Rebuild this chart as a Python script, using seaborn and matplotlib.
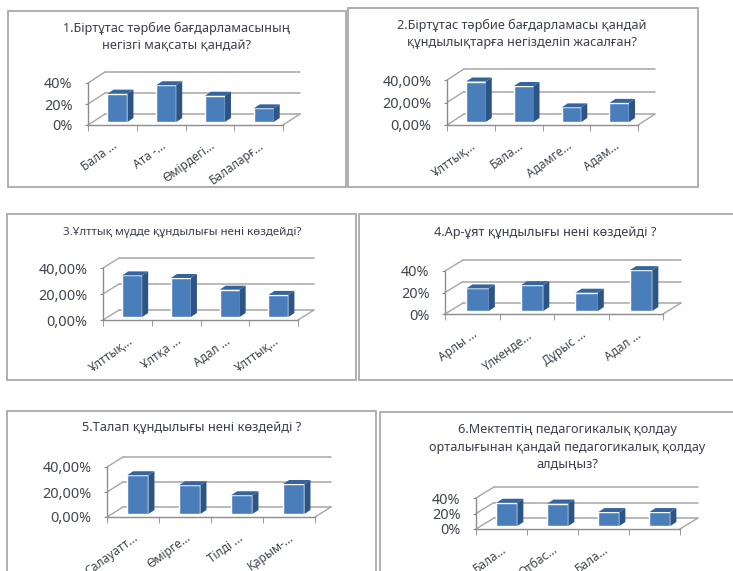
#!/usr/bin/env python
####Six fake 3D bar charts (Excel style) drawn with seaborn bars
import numpy as np
import seaborn as sns
import matplotlib
matplotlib.use("Agg")
import matplotlib.pyplot as plt
from matplotlib.patches import Polygon, Rectangle
from matplotlib.transforms import Affine2D, IdentityTransform

sns.set_style("white")
plt.rcParams['font.family'] = ['Noto Sans', 'DejaVu Sans']

####Data
title1 = "1.Біртұтас тәрбие бағдарламасының\nнегізгі мақсаты қандай?"
cats1 = ["Бала ...", "Ата -...", "Өмірдегі...", "Балаларғ..."]
vals1 = [27, 35, 25, 13]
ticks1 = ["0%", "20%", "40%"]

title2 = "2.Біртұтас тәрбие бағдарламасы қандай\nқұндылықтарға негізделіп жасалған?"
cats2 = ["Ұлттық...", "Бала...", "Адамге...", "Адам..."]
vals2 = [36, 32, 13, 17]
ticks2 = ["0,00%", "20,00%", "40,00%"]

title3 = "3.Ұлттық мүдде құндылығы нені көздейді?"
cats3 = ["Ұлттық...", "Ұлтқа ...", "Адал ...", "Ұлттық..."]
vals3 = [32, 30, 21, 17]
ticks3 = ["0,00%", "20,00%", "40,00%"]

title4 = "4.Ар-ұят құндылығы нені көздейді ?"
cats4 = ["Арлы ...", "Үлкенде...", "Дұрыс ...", "Адал ..."]
vals4 = [21, 24, 17, 38]
ticks4 = ["0%", "20%", "40%"]

title5 = "5.Талап құндылығы нені көздейді ?"
cats5 = ["Салауатт...", "Өмірге...", "Тілді ...", "Қарым-..."]
vals5 = [31, 23, 15, 24]
ticks5 = ["0,00%", "20,00%", "40,00%"]

title6 = "6.Мектептің педагогикалық қолдау\nорталығынан қандай педагогикалық қолдау\nалдыңыз?"
cats6 = ["Бала...", "Отбас...", "Бала...", ""]
vals6 = [30, 29, 18, 18]
ticks6 = ["0%", "20%", "40%"]

####Figure layout in pixels from top left
W, H = 733, 571
fig = plt.figure(figsize=(W / 100, H / 100), dpi=100)

FRONT = "#4a7ebb"
SIDE = "#2b5587"
TOP = "#35659f"
GRID = "#a6a6a6"
TEXT = "#404650"


def make_panel(box, plot, back, title, title_xy, title_size, cats, vals, ticks):
    # panel frame
    bx0, by0, bx1, by1 = box
    fig.add_artist(Rectangle((bx0, H - by1), bx1 - bx0, by1 - by0, transform=IdentityTransform(),
                             fc="white", ec="#a9a9a9", lw=1.3, zorder=-1))
    fig.text(title_xy[0] / W, 1 - title_xy[1] / H, title, ha="center", va="center",
             fontsize=title_size, color="#3b3f4c", linespacing=1.4)

    # front plane of the chart is the axes itself
    x0, x1, y40, y0 = plot
    dx, dy = back
    ax = fig.add_axes([x0 / W, 1 - y0 / H, (x1 - x0) / W, (y0 - y40) / H])
    ax.patch.set_alpha(0)

    sns.barplot(x=np.arange(len(vals)), y=vals, color=FRONT, saturation=1, width=0.41, ax=ax, zorder=3)
    ax.set_xlim(-0.5, len(vals) - 0.5)
    ax.set_ylim(0, 40)
    ax.set_xlabel("")
    ax.set_ylabel("")
    sns.despine(ax=ax, top=True, right=True)
    for s in ["left", "bottom"]:
        ax.spines[s].set_color("#8c8c8c")
        ax.spines[s].set_linewidth(1)

    ax.set_yticks([0, 20, 40])
    ax.set_yticklabels(ticks, fontsize=10.4, color=TEXT)
    ax.set_xticks(np.arange(len(vals)))
    ax.set_xticklabels(cats, fontsize=8.6, color=TEXT, rotation=36, ha="right", rotation_mode="anchor")
    ax.set_xticks(np.arange(len(vals) + 1) - 0.5, minor=True)
    ax.tick_params(axis="x", which="major", length=0, pad=10)
    ax.tick_params(axis="x", which="minor", length=4, color="#8c8c8c", bottom=True)
    ax.tick_params(axis="y", length=2, color="#8c8c8c", pad=9, left=True)

    # back wall gridlines, walls and floor edge
    to_back = ax.transData + Affine2D().translate(dx, dy)
    for v in [0, 20, 40]:
        ax.plot([-0.5, len(vals) - 0.5], [v, v], transform=to_back, color=GRID, lw=1.1,
                clip_on=False, zorder=1, scalex=False, scaley=False)
        p = ax.transData.transform((-0.5, v))
        ax.plot([p[0], p[0] + dx], [p[1], p[1] + dy], transform=IdentityTransform(), color=GRID, lw=1,
                clip_on=False, zorder=1, scalex=False, scaley=False)
    p = ax.transData.transform((len(vals) - 0.5, 0))
    ax.plot([p[0], p[0] + dx], [p[1], p[1] + dy], transform=IdentityTransform(), color=GRID, lw=1,
            clip_on=False, zorder=1, scalex=False, scaley=False)

    # shift the bars inside the floor and add the side and top faces
    shift = Affine2D().translate(dx * 0.3, 3)
    depth_x, depth_y = 6, 4
    for bar in ax.patches:
        bar.set_transform(ax.transData + shift)
        bar.set_clip_on(False)
        corner = (ax.transData + shift).transform
        l, b = corner((bar.get_x(), 0))
        r, t = corner((bar.get_x() + bar.get_width(), bar.get_height()))
        side = [(r, b), (r + depth_x, b + depth_y), (r + depth_x, t + depth_y), (r, t)]
        top = [(l, t), (r, t), (r + depth_x, t + depth_y), (l + depth_x, t + depth_y)]
        ax.add_patch(Polygon(side, transform=IdentityTransform(), fc=SIDE, ec="none", clip_on=False, zorder=3))
        ax.add_patch(Polygon(top, transform=IdentityTransform(), fc=TOP, ec="none", clip_on=False, zorder=3))


make_panel((8, 11, 346, 187), (88, 283, 83, 125), (17, 11), title1, (177, 37), 9.1, cats1, vals1, ticks1)
make_panel((348, 8, 698, 187), (447, 638, 80, 125), (17, 11), title2, (522, 34), 9.1, cats2, vals2, ticks2)
make_panel((7, 214, 356, 380), (103, 298, 268, 320), (16, 10), title3, (182, 233), 8.3, cats3, vals3, ticks3)
make_panel((359, 214, 740, 380), (445, 663, 271, 314), (18, 11), title4, (545, 233), 9.2, cats4, vals4, ticks4)
make_panel((7, 411, 376, 580), (107, 315, 467, 517), (16, 10), title5, (192, 428), 9.2, cats5, vals5, ticks5)
make_panel((380, 412, 740, 580), (476, 680, 498, 529), (18, 11), title6, (567, 447), 9.1, cats6, vals6, ticks6)

plt.savefig("out.png", dpi=100)
